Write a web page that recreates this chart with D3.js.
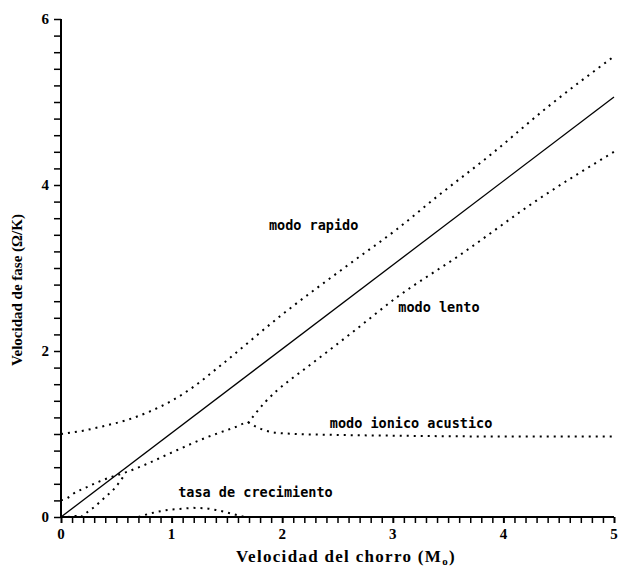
<!DOCTYPE html>
<html>
<head>
<meta charset="utf-8">
<script src="https://cdn.jsdelivr.net/npm/d3@7"></script>
<style>
html,body{margin:0;padding:0;background:#fff;}
svg{display:block;}
</style>
</head>
<body>
<svg id="chart" width="621" height="571"></svg>
<script>
// ---- data ----
const xTickLabels = ["0","1","2","3","4","5"];
const yTickLabels = ["0","2","4","6"];

const jetLine = [[0,0],[5,5.06]];                       // solid: Ω/K = M0
const fastMode = [[0,1.0],[0.2,1.04],[0.4,1.1],[0.6,1.17],[0.8,1.27],[1.0,1.4],[1.2,1.57],[1.41,1.79],[2.01,2.45],[2.62,3.06],[3.04,3.47],[3.4,3.86],[3.88,4.36],[4.4,4.94],[5.0,5.55]];
const slowLow = [[0.18,0],[0.26,0.08],[0.31,0.13],[0.35,0.18],[0.4,0.24],[0.46,0.31],[0.5,0.37],[0.56,0.48]];
const slowHigh = [[1.69,1.13],[1.76,1.25],[1.85,1.39],[1.95,1.52],[2.06,1.64],[2.16,1.74],[2.62,2.21],[3.04,2.65],[3.6,3.15],[4.33,3.84],[5.0,4.4]];
const ionMode = [[0,0.2],[0.06,0.23],[0.1,0.27],[0.25,0.37],[0.35,0.43],[0.45,0.48],[0.59,0.54],[0.76,0.63],[0.99,0.77],[1.3,0.95],[1.59,1.09],[1.69,1.14],[1.76,1.09],[1.83,1.05],[1.92,1.02],[2.13,1.0],[2.43,0.99],[3.0,0.98],[4.0,0.97],[5.0,0.97]];
const growthMain = [[0.7,0],[0.8,0.04],[0.9,0.07],[1.0,0.09],[1.1,0.1],[1.2,0.11],[1.3,0.105],[1.4,0.085],[1.5,0.055],[1.6,0.02],[1.66,0]];
const growthSmall = [[0.06,0],[0.13,0.012],[0.2,0]];

const labels = [
  {text:"modo rapido", x:1.88, y:3.46},
  {text:"modo lento", x:3.05, y:2.47},
  {text:"modo ionico acustico", x:2.43, y:1.07},
  {text:"tasa de crecimiento", x:1.06, y:0.24}
];

// ---- layout ----
const svg = d3.select("#chart");
const x = d3.scaleLinear().domain([0,5]).range([61,614]);
const y = d3.scaleLinear().domain([0,6]).range([517,19]);

const line = d3.line().x(d=>x(d[0])).y(d=>y(d[1])).curve(d3.curveMonotoneX);
const lineLin = d3.line().x(d=>x(d[0])).y(d=>y(d[1]));

// axes
const xAxis = d3.axisBottom(x).tickValues(d3.range(0,51).map(i=>i/10)).tickSize(6).tickFormat(()=> "");
const gx = svg.append("g").attr("transform","translate(0,517)").call(xAxis);
gx.select(".domain").attr("stroke","#000").attr("stroke-width",2).attr("d","M61,0H614");
gx.selectAll(".tick line").attr("stroke","#000").attr("stroke-width",d=>Math.abs(d-Math.round(d))<1e-9?2:1.5);

svg.append("g").selectAll("text").data(xTickLabels).join("text")
  .attr("x",d=>x(+d)).attr("y",539)
  .attr("text-anchor","middle")
  .attr("font-family","'Liberation Serif','Times New Roman',serif")
  .attr("font-weight","bold").attr("font-size",15)
  .text(d=>d);

const yAxis = d3.axisLeft(y).tickValues(d3.range(0,31).map(i=>i/5)).tickSize(7).tickFormat(()=> "");
const gy = svg.append("g").attr("transform","translate(61,0)").call(yAxis);
gy.select(".domain").attr("stroke","#000").attr("stroke-width",2).attr("d","M0,517V19");
gy.selectAll(".tick line").attr("stroke","#000").attr("stroke-width",1.5);

svg.append("g").selectAll("text").data(yTickLabels).join("text")
  .attr("x",49).attr("y",d=>y(+d)+5)
  .attr("text-anchor","end")
  .attr("font-family","'Liberation Serif','Times New Roman',serif")
  .attr("font-weight","bold").attr("font-size",15)
  .text(d=>d);

// axis titles
const xt = svg.append("text").attr("x",346).attr("y",562).attr("text-anchor","middle")
  .attr("font-family","'Liberation Serif','Times New Roman',serif").attr("font-weight","bold").attr("font-size",17)
  .attr("letter-spacing",1.3);
xt.append("tspan").text("Velocidad del chorro (M");
xt.append("tspan").attr("font-size",11).attr("dy",3).text("o");
xt.append("tspan").attr("dy",-3).text(")");

svg.append("text").attr("transform","translate(22,290) rotate(-90)").attr("text-anchor","middle")
  .attr("font-family","'Liberation Serif','Times New Roman',serif").attr("font-weight","bold").attr("font-size",15)
  .text("Velocidad de fase (\u03A9/K)");

// curves
svg.append("path").attr("d",lineLin(jetLine)).attr("fill","none").attr("stroke","#000").attr("stroke-width",1.3);

const dotted = [fastMode, slowLow, slowHigh, ionMode, growthMain, growthSmall];
svg.append("g").selectAll("path").data(dotted).join("path")
  .attr("d",d=>line(d)).attr("fill","none").attr("stroke","#000")
  .attr("stroke-width",2).attr("stroke-dasharray","2,5");

// labels
svg.append("g").selectAll("text").data(labels).join("text")
  .attr("x",d=>x(d.x)).attr("y",d=>y(d.y))
  .attr("font-family","'DejaVu Sans Mono','Liberation Mono',monospace")
  .attr("font-weight","bold").attr("font-size",13.5)
  .text(d=>d.text);
</script>
</body>
</html>
